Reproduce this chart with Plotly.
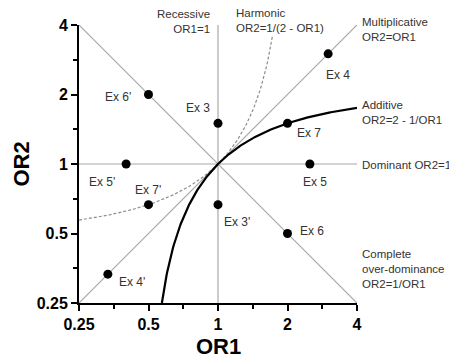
import numpy as np
import plotly.graph_objects as go

# ---- data ----
point_labels = ["Ex 6'", "Ex 3", "Ex 5'", "Ex 4", "Ex 7", "Ex 5", "Ex 7'", "Ex 3'", "Ex 4'", "Ex 6"]
point_or1 = [0.5, 1.0, 0.4, 3.0, 2.0, 2.5, 0.5, 1.0, 1 / 3, 2.0]
point_or2 = [2.0, 1.5, 1.0, 3.0, 1.5, 1.0, 2 / 3, 2 / 3, 1 / 3, 0.5]

tick_vals = [0.25, 0.5, 1, 2, 4]
tick_text = ["0.25", "0.5", "1", "2", "4"]
minor_vals = [0.3536, 0.7071, 1.4142, 2.8284]

axis_min, axis_max = 0.25, 4.0
harmonic_max_or1 = 1.72

# label placement (pixel offsets from each point)
label_style = {
    "Ex 6'": dict(xanchor="right", xshift=-16, yshift=-2),
    "Ex 3": dict(xanchor="right", xshift=-6, yshift=15),
    "Ex 5'": dict(xanchor="right", xshift=-9, yshift=-18),
    "Ex 4": dict(xanchor="center", xshift=10, yshift=-21),
    "Ex 7": dict(xanchor="center", xshift=21, yshift=-10),
    "Ex 5": dict(xanchor="center", xshift=5, yshift=-18),
    "Ex 7'": dict(xanchor="center", xshift=-1, yshift=15),
    "Ex 3'": dict(xanchor="left", xshift=4, yshift=-17),
    "Ex 4'": dict(xanchor="left", xshift=9, yshift=-8),
    "Ex 6": dict(xanchor="left", xshift=10, yshift=3),
}

FONT = "Liberation Sans, Arial, sans-serif"
GREY = "#a8a8a8"
TXT = "#333333"

fig = go.Figure()

# reference lines
line_kw = dict(mode="lines", line=dict(color=GREY, width=1.2), hoverinfo="skip", showlegend=False)
fig.add_trace(go.Scatter(x=[axis_min, axis_max], y=[axis_max, axis_min], **line_kw))  # OR2=1/OR1
fig.add_trace(go.Scatter(x=[axis_min, axis_max], y=[axis_min, axis_max], **line_kw))  # OR2=OR1
fig.add_trace(go.Scatter(x=[1, 1], y=[axis_min, axis_max], **line_kw))  # OR1=1
fig.add_trace(go.Scatter(x=[axis_min, axis_max], y=[1, 1], **line_kw))  # OR2=1

# harmonic curve OR2 = 1/(2-OR1)
hx = np.geomspace(axis_min, harmonic_max_or1, 200)
fig.add_trace(go.Scatter(x=hx, y=1 / (2 - hx), mode="lines",
                         line=dict(color="#8c8c8c", width=1.2, dash="3px,2px"),
                         hoverinfo="skip", showlegend=False))

# additive curve OR2 = 2 - 1/OR1
ax_ = np.geomspace(1 / (2 - axis_min), axis_max, 300)
fig.add_trace(go.Scatter(x=ax_, y=2 - 1 / ax_, mode="lines",
                         line=dict(color="black", width=2.2),
                         hoverinfo="skip", showlegend=False))

# points
fig.add_trace(go.Scatter(x=point_or1, y=point_or2, mode="markers",
                         marker=dict(color="black", size=9),
                         cliponaxis=False, showlegend=False))

annotations = []
for lab, x, y in zip(point_labels, point_or1, point_or2):
    st = label_style[lab]
    annotations.append(dict(x=np.log10(x), y=np.log10(y), xref="x", yref="y", text=lab,
                            showarrow=False, yanchor="middle",
                            font=dict(family=FONT, size=12, color=TXT), **st))

# curve/line labels (paper coordinates)
side_labels = [
    ("Multiplicative<br>OR2=OR1", 1.0144, 0.9856, "left"),
    ("Additive<br>OR2=2 - 1/OR1", 1.0144, 0.6835, "left"),
    ("Dominant OR2=1", 1.0144, 0.4964, "left"),
    ("Complete<br>over-dominance<br>OR2=1/OR1", 1.0144, 0.1223, "left"),
    ("Recessive<br>OR1=1", 0.4748, 1.0108, "right"),
    ("Harmonic<br>OR2=1/(2 - OR1)", 0.560, 1.015, "left"),
]
for txt, x, y, anc in side_labels:
    annotations.append(dict(x=x, y=y, xref="paper", yref="paper", text=txt, showarrow=False,
                            xanchor=anc, yanchor="middle", align=anc, borderpad=0,
                            font=dict(family=FONT, size=11.5, color=TXT)))

# axis titles
annotations.append(dict(x=0.5, y=-0.158, xref="paper", yref="paper", text="OR1", showarrow=False,
                        xanchor="center", yanchor="middle", borderpad=0,
                        font=dict(family=FONT, size=22, color="black", weight="bold")))
annotations.append(dict(x=-0.21, y=0.5, xref="paper", yref="paper", text="OR2", showarrow=False,
                        xanchor="center", yanchor="middle", textangle=-90, borderpad=0,
                        font=dict(family=FONT, size=22, color="black", weight="bold")))

axis_common = dict(
    type="log",
    range=[np.log10(axis_min), np.log10(axis_max)],
    tickvals=tick_vals, ticktext=tick_text,
    tickfont=dict(family=FONT, size=16, color="black", weight="bold"),
    showgrid=False, zeroline=False,
    showline=True, linecolor="black", linewidth=2,
    ticks="outside", ticklen=6, tickwidth=1.5, tickcolor="black",
    minor=dict(tickvals=minor_vals, ticks="outside", ticklen=4, tickwidth=1.5, tickcolor="black",
               showgrid=False),
    fixedrange=True,
)

# the page body adds an 8px offset, so the figure is 8px smaller and margins shifted
fig.update_layout(
    width=449, height=351,
    margin=dict(l=71, r=100, t=17, b=56, autoexpand=False),
    plot_bgcolor="white", paper_bgcolor="white",
    xaxis=axis_common, yaxis=axis_common,
    annotations=annotations,
    showlegend=False,
    font=dict(family=FONT),
)

fig.write_html("out.html")
